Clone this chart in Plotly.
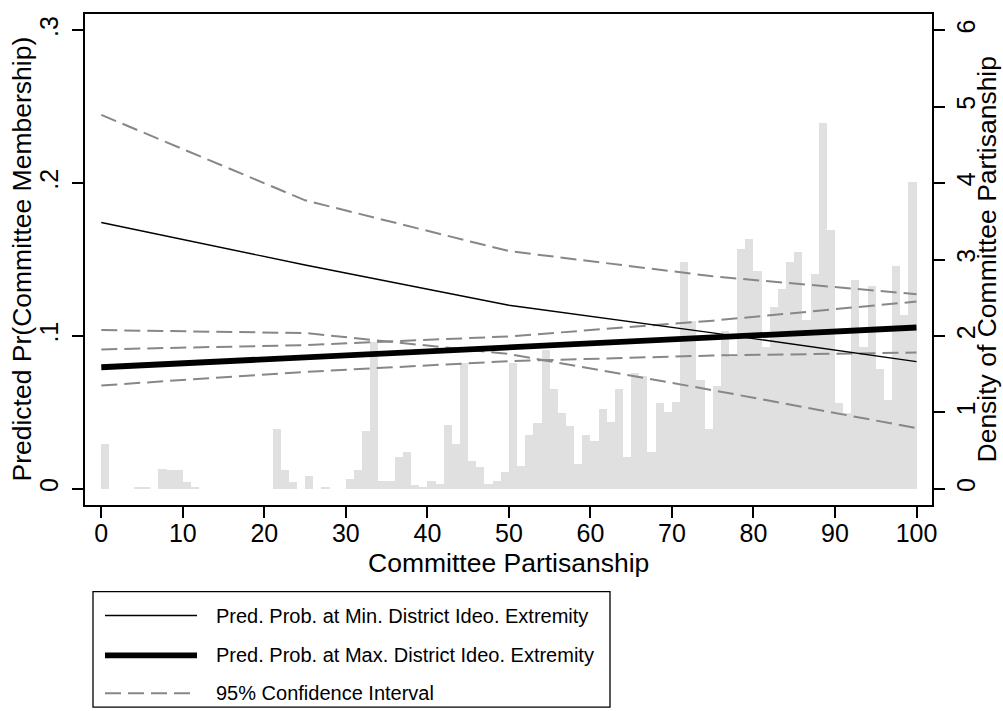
import plotly.graph_objects as go

# Histogram of committee partisanship: bins of width 1 starting at 0
bin_starts = list(range(100))
density = [
    0.58, 0, 0, 0, 0.03, 0.03, 0, 0.26, 0.24, 0.24,
    0.09, 0.03, 0, 0, 0, 0, 0, 0, 0, 0,
    0, 0.78, 0.24, 0.09, 0, 0.17, 0, 0.03, 0, 0,
    0.13, 0.24, 0.75, 1.92, 0.10, 0.10, 0.41, 0.48, 0.05, 0.02,
    0.10, 0.06, 0.83, 0.59, 1.65, 0.36, 0.28, 0.06, 0.10, 0.22,
    1.65, 0.30, 0.70, 0.86, 1.82, 1.31, 0.99, 0.82, 0.32, 0.70,
    0.63, 1.04, 0.87, 1.31, 0.41, 1.51, 1.48, 0.48, 1.12, 1.01,
    1.13, 2.97, 2.20, 1.43, 0.78, 1.35, 2.07, 1.72, 3.14, 3.27,
    2.85, 1.86, 2.38, 2.61, 2.97, 3.10, 2.21, 2.81, 4.78, 3.38,
    1.12, 0.99, 2.73, 1.86, 2.65, 1.57, 1.16, 2.91, 2.28, 4.02,
]

# Predicted probabilities over committee partisanship
partisanship = [0, 25, 50, 75, 100]
min_pred = [0.1742, 0.1464, 0.1201, 0.1020, 0.0832]
min_lo = [0.1038, 0.1019, 0.0882, 0.0645, 0.0397]
min_hi = [0.2446, 0.1887, 0.1555, 0.1390, 0.1273]
max_pred = [0.0795, 0.0858, 0.0922, 0.0988, 0.1055]
max_lo = [0.0676, 0.0765, 0.0835, 0.0872, 0.0891]
max_hi = [0.0912, 0.0940, 0.0997, 0.1100, 0.1225]

x_ticks = list(range(0, 101, 10))
prob_ticks = [0, 0.1, 0.2, 0.3]
prob_labels = ["0", ".1", ".2", ".3"]
dens_ticks = [0, 1, 2, 3, 4, 5, 6]

legend_labels = [
    "Pred. Prob. at Min. District Ideo. Extremity",
    "Pred. Prob. at Max. District Ideo. Extremity",
    "95% Confidence Interval",
]

FONT = "Arial, Liberation Sans, Helvetica, sans-serif"
CI_COLOR = "#878787"
BAR_COLOR = "#e0e0e0"
DASH = "16px,7px"

W, H = 1003, 711
ML, MR, MT, MB = 85, 71, 12, 206
PW, PH = W - ML - MR, H - MT - MB


def px_x(p):
    return (p - ML) / PW


def px_y(p):
    return (H - MB - p) / PH


fig = go.Figure()

fig.add_trace(go.Bar(
    x=[b + 0.5 for b in bin_starts], y=density, width=1.0,
    marker=dict(color=BAR_COLOR, line=dict(width=0)),
    yaxis="y", showlegend=False, hoverinfo="skip",
))

for series in (min_hi, min_lo, max_hi, max_lo):
    fig.add_trace(go.Scatter(
        x=partisanship, y=series, mode="lines", yaxis="y2",
        line=dict(color=CI_COLOR, width=2, dash=DASH),
        showlegend=False,
    ))

fig.add_trace(go.Scatter(
    x=partisanship, y=min_pred, mode="lines", yaxis="y2",
    line=dict(color="black", width=1.4), showlegend=False,
))
fig.add_trace(go.Scatter(
    x=partisanship, y=max_pred, mode="lines", yaxis="y2",
    line=dict(color="black", width=5.8), showlegend=False,
))

axis_common = dict(
    showgrid=False, zeroline=False, showline=True, linecolor="black",
    linewidth=1.6, ticks="outside", ticklen=11, tickwidth=1.5,
    tickcolor="black", tickfont=dict(family=FONT, size=25, color="black"),
)

fig.update_layout(
    width=W, height=H,
    margin=dict(l=ML, r=MR, t=MT, b=MB, pad=0),
    paper_bgcolor="white", plot_bgcolor="white",
    bargap=0, showlegend=False,
    font=dict(family=FONT, color="black"),
    xaxis=dict(range=[-2.0, 101.9], tickvals=x_ticks, mirror=True,
               ticklabelstandoff=-6, **axis_common),
    yaxis=dict(range=[-0.212, 6.212], tickvals=dens_ticks, side="right",
               tickangle=-90, ticklabelstandoff=0, **axis_common),
    yaxis2=dict(range=[-0.0106, 0.3106], tickvals=prob_ticks,
                ticktext=prob_labels, overlaying="y", side="left",
                tickangle=-90, ticklabelstandoff=4, **axis_common),
)

# Axis titles
fig.add_annotation(text="Committee Partisanship", xref="paper", yref="paper",
                   x=0.5, y=px_y(563), xanchor="center", yanchor="middle",
                   showarrow=False, font=dict(family=FONT, size=26.5))
fig.add_annotation(text="Predicted Pr(Committee Membership)", xref="paper",
                   yref="paper", x=px_x(21), y=0.5, textangle=-90,
                   xanchor="center", yanchor="middle", showarrow=False,
                   font=dict(family=FONT, size=26.5))
fig.add_annotation(text="Density of Committee Partisanship", xref="paper",
                   yref="paper", x=px_x(986), y=0.5, textangle=-90,
                   xanchor="center", yanchor="middle", showarrow=False,
                   font=dict(family=FONT, size=26.5))

# Legend box below the plot
fig.add_shape(type="rect", xref="paper", yref="paper",
              x0=px_x(93), x1=px_x(610), y0=px_y(592), y1=px_y(708),
              line=dict(color="black", width=1.3), fillcolor="white")
row_y = [616, 656, 694]
samples = [
    dict(color="black", width=1.4, dash="solid"),
    dict(color="black", width=5.8, dash="solid"),
    dict(color=CI_COLOR, width=2, dash=DASH),
]
for ry, style, label in zip(row_y, samples, legend_labels):
    fig.add_shape(type="line", xref="paper", yref="paper",
                  x0=px_x(105), x1=px_x(197), y0=px_y(ry), y1=px_y(ry),
                  line=style)
    fig.add_annotation(text=label, xref="paper", yref="paper",
                       x=px_x(214), y=px_y(ry), xanchor="left",
                       yanchor="middle", showarrow=False,
                       font=dict(family=FONT, size=20))

fig.write_html("out.html")
